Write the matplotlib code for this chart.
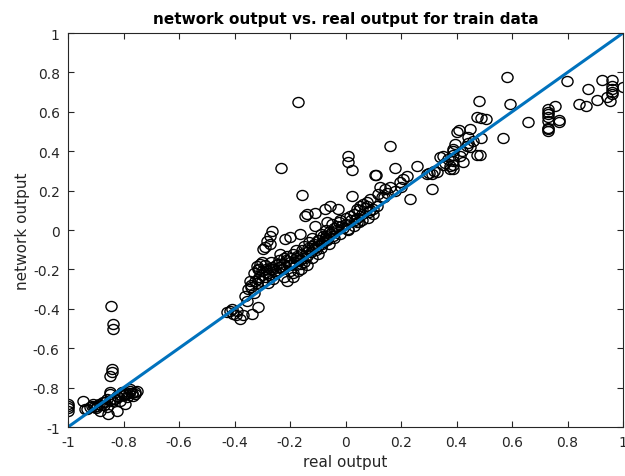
import numpy as np
import matplotlib
matplotlib.use('Agg')
import matplotlib.pyplot as plt
from matplotlib.path import Path
from matplotlib.transforms import Affine2D

plt.rcParams['font.family'] = ['DejaVu Sans']

#Data: real output vs network output
low_x = [-1.0, -1.0, -1.0, -1.0,
         -0.946, -0.939, -0.92, -0.895, -0.874, -0.856, -0.823, -0.795, -0.849, -0.805,
         -0.777, -0.751, -0.766, -0.83, -0.86, -0.91, -0.885, -0.787, -0.813, -0.93,
         -0.9, -0.87, -0.84, -0.82, -0.8, -0.78, -0.76,
         -0.915, -0.905, -0.89, -0.88, -0.865, -0.85, -0.835, -0.825, -0.81, -0.8,
         -0.79, -0.775, -0.77, -0.76, -0.85, -0.86,
         -0.845, -0.838, -0.838, -0.841, -0.841, -0.849]
low_y = [-0.883, -0.893, -0.904, -0.919,
         -0.868, -0.909, -0.9, -0.893, -0.873, -0.934, -0.919, -0.883, -0.832, -0.822,
         -0.807, -0.817, -0.843, -0.858, -0.858, -0.883, -0.919, -0.848, -0.868, -0.91,
         -0.905, -0.89, -0.87, -0.85, -0.835, -0.825, -0.83,
         -0.895, -0.9, -0.885, -0.89, -0.875, -0.865, -0.86, -0.845, -0.84, -0.83,
         -0.83, -0.815, -0.825, -0.82, -0.82, -0.9,
         -0.386, -0.477, -0.503, -0.706, -0.72, -0.741]

mid_x = [-0.427, -0.416, -0.405, -0.38, -0.395, -0.41, -0.39, -0.37, -0.337, -0.355,
         -0.362, -0.344, -0.35, -0.34, -0.33, -0.32, -0.315, -0.33, -0.31, -0.319,
         -0.315, -0.308, -0.297, -0.3, -0.29, -0.28, -0.29, -0.27, -0.27, -0.26,
         -0.25, -0.25, -0.236, -0.24, -0.23, -0.22, -0.22, -0.21, -0.2, -0.2,
         -0.19, -0.19, -0.18, -0.18, -0.17, -0.17, -0.16, -0.16, -0.15, -0.15,
         -0.14, -0.14, -0.13, -0.13, -0.12, -0.12, -0.11, -0.1, -0.1, -0.09,
         -0.09, -0.08, -0.07, -0.07, -0.06, -0.05, -0.05, -0.04, -0.03, -0.02,
         -0.02, -0.01, 0.0, 0.0, 0.01, 0.02, 0.03, 0.03, 0.04, 0.05,
         0.05, 0.06, 0.07, 0.077, 0.08, 0.09, 0.1, 0.1, 0.114, 0.063,
         0.088, 0.117, 0.131, -0.315, -0.3, -0.21, -0.19, -0.067, -0.067, 0.04,
         0.04, 0.009, 0.052, 0.077,
         -0.34, -0.325, -0.31, -0.3, -0.285, -0.275, -0.265, -0.255, -0.245, -0.235,
         -0.225, -0.215, -0.205, -0.195, -0.185, -0.175, -0.165, -0.155, -0.145, -0.135,
         -0.125, -0.115, -0.105, -0.095, -0.085, -0.075, -0.065, -0.055, -0.045, -0.035,
         -0.3, -0.28, -0.26, -0.24, -0.22, -0.2, -0.18, -0.16, -0.14, -0.12,
         -0.1, -0.08, -0.06, -0.04, -0.025, -0.015, 0.015, 0.035, 0.06, 0.085,
         -0.272, -0.265, -0.272, -0.218, -0.2, -0.164, -0.11, -0.139, -0.146, -0.11,
         -0.074, -0.056, -0.027, -0.157, -0.232, -0.17, 0.009, 0.009, 0.023, 0.023,
         0.106, -0.283, -0.29]
mid_y = [-0.416, -0.411, -0.426, -0.452, -0.43, -0.4, -0.41, -0.43, -0.426, -0.36,
         -0.335, -0.259, -0.3, -0.28, -0.32, -0.27, -0.25, -0.22, -0.2, -0.183,
         -0.198, -0.173, -0.096, -0.26, -0.24, -0.22, -0.18, -0.2, -0.16, -0.25,
         -0.22, -0.18, -0.122, -0.15, -0.2, -0.24, -0.17, -0.13, -0.21, -0.16,
         -0.24, -0.12, -0.18, -0.1, -0.21, -0.15, -0.12, -0.2, -0.16, -0.08,
         -0.13, -0.18, -0.1, -0.06, -0.14, -0.04, -0.09, -0.12, -0.05, -0.02,
         -0.09, -0.06, -0.03, 0.0, -0.07, -0.01, 0.03, -0.04, 0.02, 0.05,
         -0.02, 0.01, 0.06, 0.03, 0.0, 0.05, 0.08, 0.02, 0.06, 0.1,
         0.04, 0.08, 0.11, 0.122, 0.06, 0.1, 0.08, 0.107, 0.122, 0.132,
         0.157, 0.183, 0.167, -0.39, -0.16, -0.26, -0.22, 0.04, -0.046, 0.107,
         0.04, 0.005, 0.122, 0.142,
         -0.29, -0.26, -0.24, -0.21, -0.2, -0.23, -0.19, -0.21, -0.17, -0.19,
         -0.2, -0.15, -0.18, -0.14, -0.16, -0.13, -0.15, -0.1, -0.14, -0.09,
         -0.11, -0.07, -0.1, -0.05, -0.07, -0.04, -0.05, -0.02, -0.03, 0.0,
         -0.23, -0.27, -0.2, -0.19, -0.14, -0.18, -0.14, -0.17, -0.11, -0.08,
         -0.08, -0.03, -0.01, 0.01, 0.04, 0.02, 0.07, 0.05, 0.05, 0.09,
         -0.03, -0.005, -0.071, -0.046, -0.036, -0.02, 0.02, 0.081, 0.071, 0.086,
         0.107, 0.122, 0.107, 0.178, 0.315, 0.65, 0.376, 0.345, 0.305, 0.173,
         0.28, -0.056, -0.086]

high_x = [0.124, 0.142, 0.16, 0.178, 0.11, 0.16, 0.196, 0.207, 0.222, 0.232,
          0.258, 0.294, 0.311, 0.311, 0.33, 0.34, 0.351, 0.369, 0.377, 0.377,
          0.387, 0.395, 0.413, 0.423, 0.438, 0.449, 0.41, 0.4, 0.449, 0.441,
          0.49, 0.474, 0.474, 0.49, 0.506, 0.481, 0.387, 0.387, 0.387, 0.387,
          0.387, 0.3, 0.32, 0.35, 0.36, 0.42, 0.44, 0.46, 0.18, 0.2,
          0.15, 0.14,
          0.73, 0.73, 0.73, 0.73, 0.73, 0.73, 0.73, 0.73, 0.755, 0.77,
          0.77, 0.582, 0.798, 0.593, 0.924, 0.96, 1.0, 0.874, 0.906, 0.942,
          0.953, 0.841, 0.867, 0.96, 0.96, 0.96, 0.96, 0.658, 0.568, 0.485]
high_y = [0.218, 0.208, 0.218, 0.315, 0.28, 0.426, 0.243, 0.26, 0.274, 0.157,
          0.325, 0.284, 0.284, 0.208, 0.294, 0.37, 0.376, 0.36, 0.325, 0.31,
          0.41, 0.437, 0.376, 0.345, 0.427, 0.42, 0.51, 0.5, 0.513, 0.472,
          0.467, 0.38, 0.574, 0.57, 0.563, 0.655, 0.4, 0.38, 0.35, 0.33,
          0.31, 0.29, 0.3, 0.33, 0.34, 0.4, 0.44, 0.45, 0.2, 0.22,
          0.19, 0.17,
          0.614, 0.599, 0.59, 0.574, 0.553, 0.513, 0.503, 0.52, 0.63, 0.558,
          0.55, 0.777, 0.756, 0.64, 0.761, 0.761, 0.726, 0.716, 0.66, 0.675,
          0.655, 0.64, 0.63, 0.73, 0.715, 0.7, 0.69, 0.548, 0.467, 0.38]

real_out = np.array(low_x + mid_x + high_x)
net_out = np.array(low_y + mid_y + high_y)

ticks = [-1, -0.8, -0.6, -0.4, -0.2, 0, 0.2, 0.4, 0.6, 0.8, 1]
tick_labels = ['-1', '-0.8', '-0.6', '-0.4', '-0.2', '0', '0.2', '0.4', '0.6', '0.8', '1']

#slightly flattened circle like the stretched figure
ellipse = Path.unit_circle().transformed(Affine2D().scale(1.0, 0.9))

fig = plt.figure(figsize=(6.25, 4.77), dpi=100)
ax = fig.add_axes([0.1088, 0.1027, 0.888, 0.826])
ax.plot(real_out, net_out, linestyle='none', marker=ellipse, markersize=8,
        markerfacecolor='none', markeredgecolor='black', markeredgewidth=1.0)
ax.plot([-1, 1], [-1, 1], color=(0, 0.447, 0.741), linewidth=2.2)

ax.set_xlim(-1, 1)
ax.set_ylim(-1, 1)
ax.set_xticks(ticks)
ax.set_xticklabels(tick_labels)
ax.set_yticks(ticks)
ax.set_yticklabels(tick_labels)
ax.tick_params(direction='in', top=True, right=True, length=4, labelsize=10,
               colors='#262626', pad=6)
for s in ax.spines.values():
    s.set_color('#262626')
    s.set_linewidth(0.8)
ax.set_xlabel('real output', fontsize=11, color='#262626', labelpad=3)
ax.set_ylabel('network output', fontsize=11, color='#262626', labelpad=2)
ax.set_title('network output vs. real output for train data', fontsize=11,
             fontweight='bold', pad=7)
plt.savefig('out.png')
